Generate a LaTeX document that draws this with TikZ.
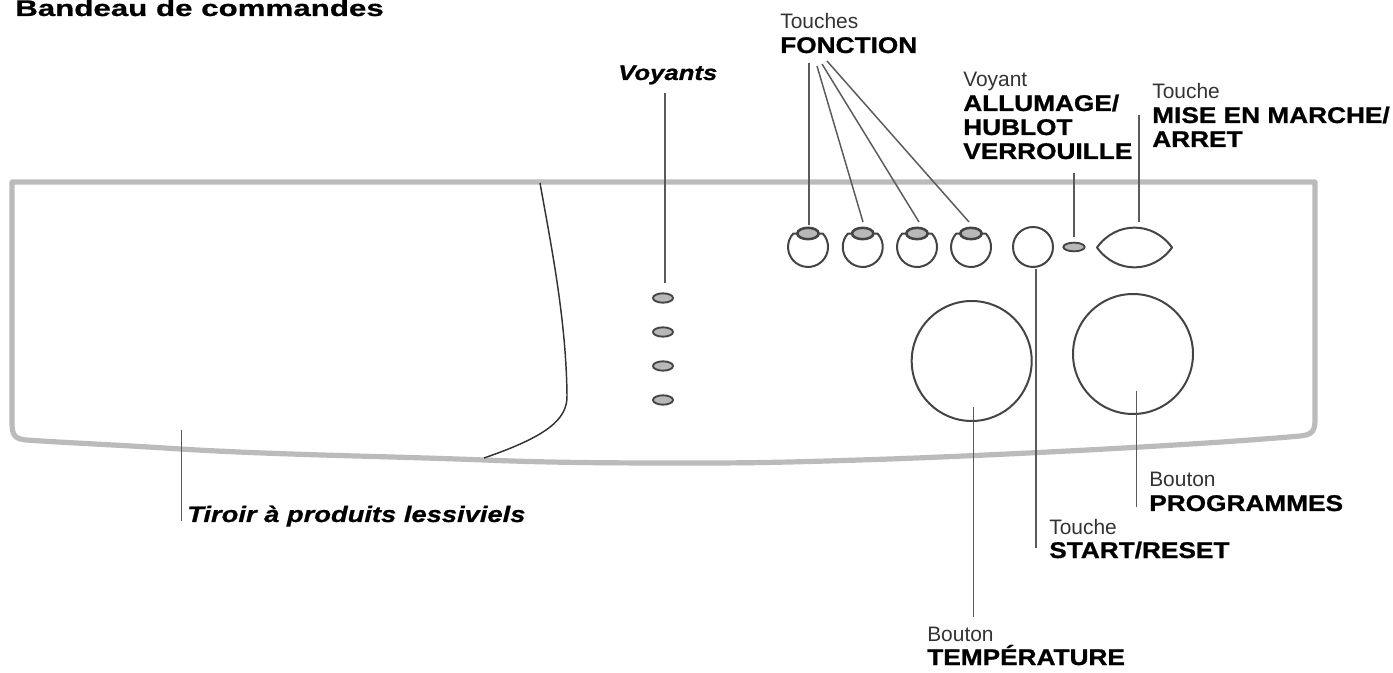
\documentclass[tikz,border=0pt]{standalone}
\usepackage{fontspec}
\usetikzlibrary{shapes.geometric,calc}
\setmainfont{Liberation Sans}
\newfontfamily\hbf[FakeStretch=1.157,FakeBold=1.0]{Liberation Sans Bold}
\newfontfamily\hbi[FakeStretch=1.22,FakeBold=0.8]{Liberation Sans Bold Italic}
\newfontfamily\ttlf[FakeStretch=1.38,FakeBold=0.8]{Liberation Sans Bold}
\definecolor{framegray}{HTML}{BBBBBB}
\definecolor{linegray}{HTML}{5A5A5A}
\definecolor{ledgray}{HTML}{B8B8B8}
\definecolor{inkgray}{HTML}{444444}
\definecolor{thin}{HTML}{333333}
\tikzset{
  x=0.75pt,y=-0.75pt,
  frameline/.style={draw=framegray,line width=3.9pt,line join=round},
  conn/.style={draw=linegray,line width=1.1pt},
  contour/.style={draw=inkgray,line width=1.5pt,line join=round},
  led/.style={ellipse,draw=inkgray,fill=ledgray,line width=1.4pt,inner sep=0pt,minimum width=15pt,minimum height=7pt},
  lens/.style={ellipse,draw=inkgray,fill=ledgray,line width=1.9pt,inner sep=0pt,minimum width=16pt,minimum height=8.5pt},
  knob/.style={circle,draw=inkgray,line width=1.5pt,inner sep=0pt,minimum size=90pt},
  startb/.style={circle,draw=inkgray,line width=1.5pt,inner sep=0pt,minimum size=30pt},
  lab/.style={anchor=base west,inner sep=0pt,align=left,text=black,font=\fontsize{15.7pt}{18pt}\selectfont},
  ital/.style={anchor=base west,inner sep=0pt,text=black,font=\fontsize{16.8pt}{18pt}\selectfont\hbi},
}
\newcommand{\lt}[1]{{\color{thin}#1}}
\newcommand{\hb}{\fontsize{17pt}{18pt}\selectfont\hbf}
\begin{document}
\begin{tikzpicture}
\useasboundingbox (0,0) rectangle (1393,673);
% panel
\draw[frameline] (12,182) -- (1315,182) -- (1315,420) .. controls (1315,431) and (1312,435) .. (1300,436)
  .. controls (1200,445) and (1000,455) .. (890,459)
  .. controls (800,462) and (760,463) .. (700,463)
  .. controls (620,463) and (560,463) .. (484,460)
  .. controls (380,456) and (280,455) .. (180,449)
  .. controls (120,445) and (70,443) .. (26,440)
  .. controls (16,439) and (12,436) .. (12,424) -- cycle;
\draw[line width=1.1pt,draw=thin] (540,183) .. controls (552,250) and (566,320) .. (567,395) .. controls (568,420) and (545,437) .. (484,458);
% leds
\node[led] (v1) at (663,298) {};
\node[led] (v2) at (663,332) {};
\node[led] (v3) at (663,366) {};
\node[led] (v4) at (663,400) {};
% function keys
\foreach \n/\xx in {f1/808,f2/862.7,f3/917,f4/971}{
  \draw[contour] (\xx+10,233.5) -- (\xx+14.9,233.6) arc[start angle=-42,end angle=222,radius=20] -- (\xx-10,233.5);
  \node[lens] (\n) at (\xx,233.5) {};
}
\node[startb] (start) at (1033,247) {};
\node[led,minimum width=16pt,minimum height=6.5pt] (on) at (1074,247) {};
\draw[contour] (1097,247.5) .. controls (1116,221) and (1153,221) .. (1172,247.5) .. controls (1153,274) and (1116,274) .. cycle;
\coordinate (powertop) at (1139,222);
\node[knob] (ktemp) at (971.7,361) {};
\node[knob] (kprog) at (1133,354) {};
% labels
\node[ital,font=\fontsize{15.8pt}{18pt}\selectfont\hbi] (tvoy) at (618,80) {Voyants};
\node[lab] (tfonc) at (780,53) {\lt{Touches}\\\hb FONCTION};
\node[lab] (tall) at (963,159) {\lt{Voyant}\\\hb ALLUMAGE/\\\hb HUBLOT\\\hb VERROUILLE};
\node[lab] (tmise) at (1152,147) {\lt{Touche}\\\hb MISE EN MARCHE/\\\hb ARRET};
\node[lab] (tprog) at (1149,511) {\lt{Bouton}\\\hb PROGRAMMES};
\node[lab] (tstart) at (1049,558) {\lt{Touche}\\\hb START/RESET};
\node[lab] (ttemp) at (927,665) {\lt{Bouton}\\\hb TEMPÉRATURE};
\node[ital] (ttir) at (187,522) {Tiroir à produits lessiviels};
\node[anchor=base west,inner sep=0pt,font=\fontsize{17pt}{20pt}\selectfont\ttlf] (title) at (15,16) {Bandeau de commandes};
% connector ends
\coordinate (a1) at (809,63);
\coordinate (a2) at (817,66);
\coordinate (a3) at (822,64);
\coordinate (a4) at (827,61);
\coordinate (b1) at (809,225);
\coordinate (b2) at (863,222);
\coordinate (b3) at (919,222);
\coordinate (b4) at (969,222);
\coordinate (vt) at (665,93);
\coordinate (vb) at (665,283);
\coordinate (ont) at (1074,173);
\coordinate (onb) at (1074,237);
\coordinate (pwt) at (1139,115);
\coordinate (tiA) at (181.5,430);
\coordinate (tiB) at (181.5,521);
\coordinate (teA) at (973.7,407);
\coordinate (teB) at (973.7,617);
\coordinate (stA) at (1036,269);
\coordinate (stB) at (1036,548);
\coordinate (prA) at (1136.7,391);
\coordinate (prB) at (1136.7,507);
\draw[conn] (a1) -- (b1);
\draw[conn] (a2) -- (b2);
\draw[conn] (a3) -- (b3);
\draw[conn] (a4) -- (b4);
\draw[conn] (vt) -- (vb);
\draw[conn] (ont) -- (onb);
\draw[conn] (pwt) -- (powertop);
\draw[conn] (tiA) -- (tiB);
\draw[conn] (teA) -- (teB);
\draw[conn] (stA) -- (stB);
\draw[conn] (prA) -- (prB);
\end{tikzpicture}
\end{document}
